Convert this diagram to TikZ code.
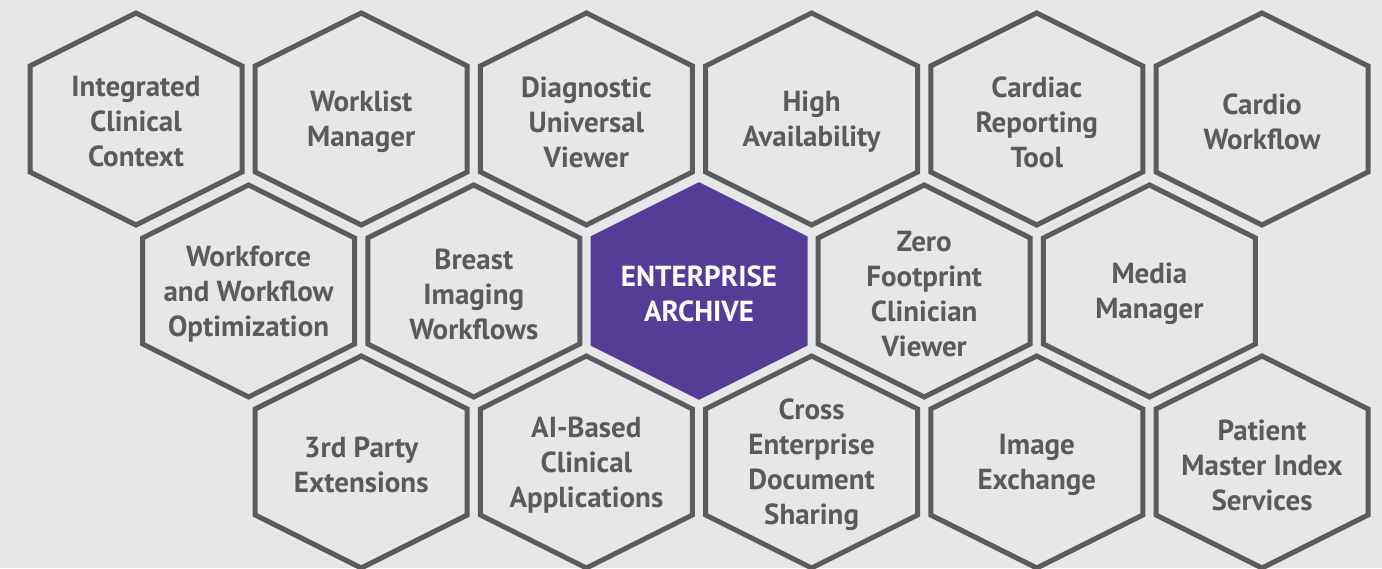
\documentclass[tikz,border=0pt]{standalone}
\usepackage{fontspec}
\setmainfont{PT Sans}
\usetikzlibrary{backgrounds}
\definecolor{bggray}{HTML}{E6E7E9}
\definecolor{hexgray}{HTML}{5A5B5D}
\definecolor{archpurple}{HTML}{553C97}

\newcommand{\hexoutline}{++(0,106) -- ++(106,-53) -- ++(0,-106) -- ++(-106,-53) -- ++(-106,53) -- ++(0,106) -- cycle}

\begin{document}
\begin{tikzpicture}[
		x=0.5pt, y=0.5pt,
		hexline/.style={draw=hexgray, line width=2.5pt, line join=miter},
		corehex/.style={fill=archpurple, draw=archpurple, line width=2.5pt},
		celltext/.style={align=center, text=hexgray, font=\fontsize{14.5}{17.5}\selectfont\bfseries, inner sep=0pt, yshift=-1.5pt},
		coretext/.style={celltext, text=white}
	]
		\useasboundingbox (0,0) rectangle (1382,568);

		% top row
		\node[celltext] (clinctx) at (136, 449) {Integrated\\Clinical\\Context};
		\node[celltext] (worklist) at (361.2, 449) {Worklist\\Manager};
		\node[celltext] (diagview) at (586.4, 449) {Diagnostic\\Universal\\Viewer};
		\node[celltext] (highavail) at (811.6, 449) {High\\Availability};
		\node[celltext] (cardrep) at (1036.8, 449) {Cardiac\\Reporting\\Tool};
		\node[celltext] (cardflow) at (1262, 449) {Cardio\\Workflow};

		% middle row
		\node[celltext] (workforce) at (248.6, 277) {Workforce\\and Workflow\\Optimization};
		\node[celltext] (breast) at (473.8, 277) {Breast\\Imaging\\Workflows};
		\node[coretext] (archive) at (699, 277) {ENTERPRISE\\ARCHIVE};
		\node[celltext] (zfp) at (924.2, 277) {Zero\\Footprint\\Clinician\\Viewer};
		\node[celltext] (media) at (1149.4, 277) {Media\\Manager};

		% bottom row
		\node[celltext] (thirdparty) at (361.2, 106) {3rd Party\\Extensions};
		\node[celltext] (aiapps) at (586.4, 106) {AI-Based\\Clinical\\Applications};
		\node[celltext] (xds) at (811.6, 106) {Cross\\Enterprise\\Document\\Sharing};
		\node[celltext] (imgx) at (1036.8, 106) {Image\\Exchange};
		\node[celltext] (pmi) at (1262, 106) {Patient\\Master Index\\Services};

		% hexagons behind the labels
		\begin{scope}[on background layer]
		\fill[bggray] (0,0) rectangle (1382,568);
		\foreach \n in {clinctx, worklist, diagview, highavail, cardrep, cardflow,
			workforce, breast, zfp, media, thirdparty, aiapps, xds, imgx, pmi}
			\draw[hexline] ([yshift=1.5pt]\n.center) \hexoutline;
		\draw[corehex] ([yshift=1.5pt]archive.center) \hexoutline;
		\end{scope}
	\end{tikzpicture}
\end{document}
